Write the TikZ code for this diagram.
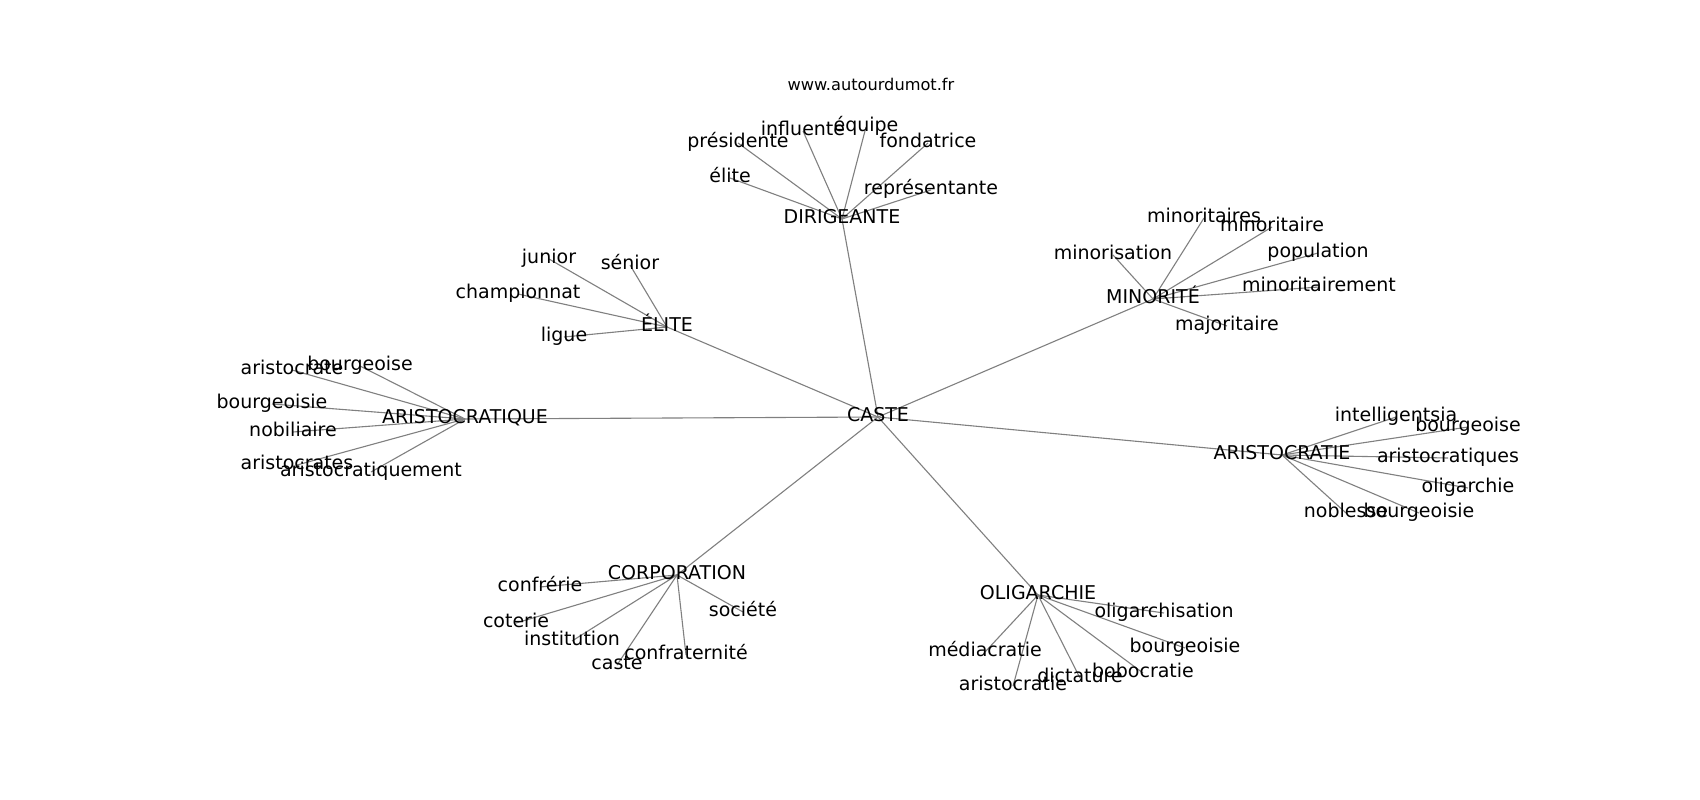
\documentclass[tikz,border=0pt]{standalone}
\usepackage{fontspec}
\setmainfont{DejaVu Sans}
\pgfdeclarelayer{bottom}
\pgfdeclarelayer{background}
\pgfsetlayers{bottom,background,main}
\begin{document}
\begin{tikzpicture}[x=1pt,y=-1pt,
  lbl/.style={inner sep=0pt,font=\fontsize{19}{22}\selectfont,text height=14.4pt,text depth=4.6pt,anchor=center},
  ttl/.style={inner sep=0pt,font=\fontsize{16.2}{19}\selectfont,text height=12.3pt,text depth=3.9pt,anchor=center},
  link/.style={draw=gray,line width=1.1pt}]
\begin{pgfonlayer}{bottom}
\fill[white] (0,0) rectangle (1700,800);
\end{pgfonlayer}
\useasboundingbox (0,0) rectangle (1700,800);
\begin{scope}[shift={(0,3)}]
\node[ttl] (title) at (871,83) {www.autourdumot.fr};
% hubs
\node[lbl] (caste) at (878,414) {CASTE};
\node[lbl] (dir) at (842,216) {DIRIGEANTE};
\node[lbl] (min) at (1153,296) {MINORITÉ};
\node[lbl] (aristie) at (1282,452) {ARISTOCRATIE};
\node[lbl] (aristique) at (465,416) {ARISTOCRATIQUE};
\node[lbl] (elite) at (667,324) {ÉLITE};
\node[lbl] (corp) at (677,572) {CORPORATION};
\node[lbl] (olig) at (1038,592) {OLIGARCHIE};
% DIRIGEANTE
\node[lbl] (d1) at (738,140) {présidente};
\node[lbl] (d2) at (803,128) {influente};
\node[lbl] (d3) at (866,124) {équipe};
\node[lbl] (d4) at (928,140) {fondatrice};
\node[lbl] (d5) at (730,175) {élite};
\node[lbl] (d6) at (931,187) {représentante};
% MINORITE
\node[lbl] (m1) at (1204,215) {minoritaires};
\node[lbl] (m2) at (1272,224) {minoritaire};
\node[lbl] (m3) at (1113,252) {minorisation};
\node[lbl] (m4) at (1318,250) {population};
\node[lbl] (m5) at (1319,284) {minoritairement};
\node[lbl] (m6) at (1227,323) {majoritaire};
% ARISTOCRATIE
\node[lbl] (a1) at (1396,414) {intelligentsia};
\node[lbl] (a2) at (1468,424) {bourgeoise};
\node[lbl] (a3) at (1448,455) {aristocratiques};
\node[lbl] (a4) at (1468,485) {oligarchie};
\node[lbl] (a5) at (1346,510) {noblesse};
\node[lbl] (a6) at (1419,510) {bourgeoisie};
% ARISTOCRATIQUE
\node[lbl] (q1) at (292,367) {aristocrate};
\node[lbl] (q2) at (360,363) {bourgeoise};
\node[lbl] (q3) at (272,401) {bourgeoisie};
\node[lbl] (q4) at (293,429) {nobiliaire};
\node[lbl] (q5) at (297,462) {aristocrates};
\node[lbl] (q6) at (371,469) {aristocratiquement};
% ELITE
\node[lbl] (e1) at (549,256) {junior};
\node[lbl] (e2) at (630,262) {sénior};
\node[lbl] (e3) at (518,291) {championnat};
\node[lbl] (e4) at (564,334) {ligue};
% CORPORATION
\node[lbl] (c1) at (540,584) {confrérie};
\node[lbl] (c2) at (516,620) {coterie};
\node[lbl] (c3) at (572,638) {institution};
\node[lbl] (c4) at (617,662) {caste};
\node[lbl] (c5) at (686,652) {confraternité};
\node[lbl] (c6) at (743,609) {société};
% OLIGARCHIE
\node[lbl] (o1) at (1164,610) {oligarchisation};
\node[lbl] (o2) at (1185,645) {bourgeoisie};
\node[lbl] (o3) at (985,649) {médiacratie};
\node[lbl] (o4) at (1013,683) {aristocratie};
\node[lbl] (o5) at (1080,675) {dictature};
\node[lbl] (o6) at (1143,670) {bobocratie};
\end{scope}
\begin{pgfonlayer}{background}
\foreach \h in {dir,min,aristie,aristique,elite,corp,olig}
  \draw[link] (caste.center) -- (\h.center);
\foreach \l in {d1,d2,d3,d4,d5,d6}
  \draw[link] (dir.center) -- (\l.center);
\foreach \l in {m1,m2,m3,m4,m5,m6}
  \draw[link] (min.center) -- (\l.center);
\foreach \l in {a1,a2,a3,a4,a5,a6}
  \draw[link] (aristie.center) -- (\l.center);
\foreach \l in {q1,q2,q3,q4,q5,q6}
  \draw[link] (aristique.center) -- (\l.center);
\foreach \l in {e1,e2,e3,e4}
  \draw[link] (elite.center) -- (\l.center);
\foreach \l in {c1,c2,c3,c4,c5,c6}
  \draw[link] (corp.center) -- (\l.center);
\foreach \l in {o1,o2,o3,o4,o5,o6}
  \draw[link] (olig.center) -- (\l.center);
\end{pgfonlayer}
\end{tikzpicture}
\end{document}
